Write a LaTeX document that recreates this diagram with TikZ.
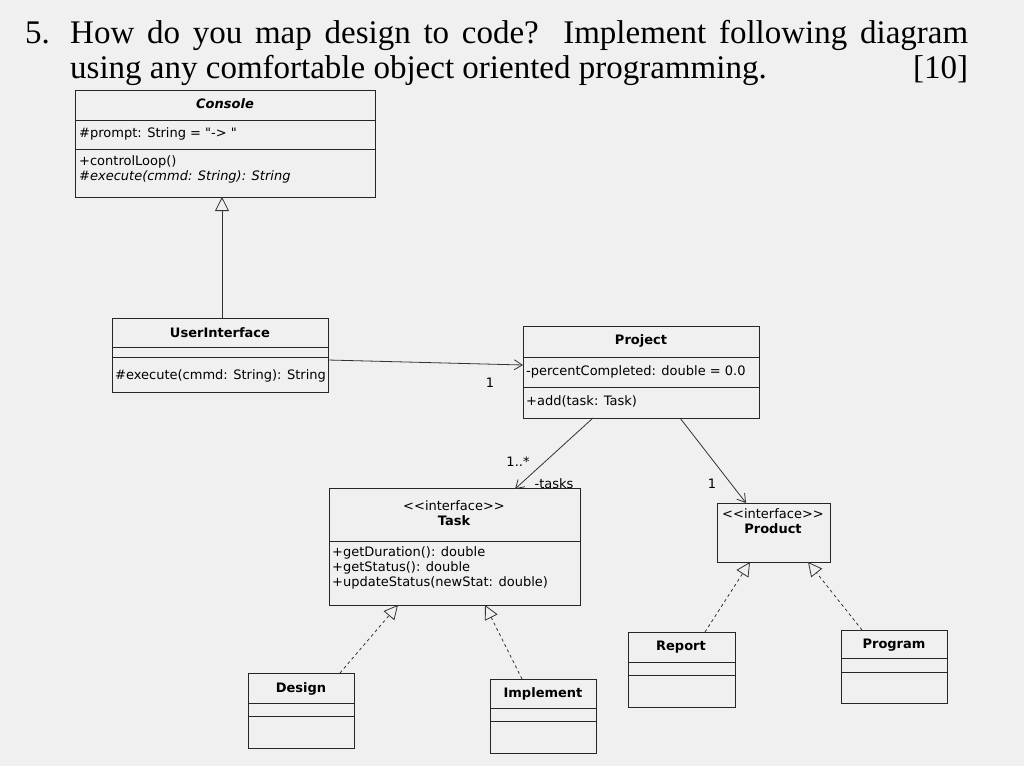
\documentclass[tikz,border=0pt]{standalone}
\usepackage{fontspec}
\setmainfont{Liberation Serif}
\newfontfamily\uml{DejaVu Sans}
\usetikzlibrary{arrows.meta}
\tikzset{
 box/.style={draw=black!85,line width=1pt},
 lbl/.style={font=\uml\fontsize{13}{15}\selectfont,inner sep=1pt},
 bl/.style={lbl,font=\uml\bfseries\fontsize{13}{15}\selectfont},
 hd/.style={anchor=base west,inner sep=0pt,font=\fontsize{33}{36}\selectfont},
 gen/.style={draw=black!80,line width=0.8pt,-{Triangle[open,length=14pt,width=14pt]}},
 real/.style={gen,dashed},
 assoc/.style={draw=black!80,line width=0.8pt,-{Straight Barb[length=8pt,width=10pt]}},
}
\begin{document}
\begin{tikzpicture}[x=1pt,y=-1pt]
\useasboundingbox[fill=black!6] (0,0) rectangle (1024,766);
\node[hd] (hdr1) at (70,43) {\makebox[898pt][s]{How do you map design to code? Implement following diagram}};
\node[hd] (hdr2) at (70,78) {\makebox[898pt][l]{using any comfortable object oriented programming.\hfill[10]}};
\node[hd] (num) at (25,43) {5.};
% Console
\draw[box] (75,90) rectangle (375,197); \draw[box] (75,120)--(375,120); \draw[box](75,149)--(375,149);
\node[bl,font=\uml\bfseries\itshape\fontsize{13}{15}\selectfont] (con) at (225,104) {Console};
\node[lbl,anchor=west] (cp) at (78,134) {\#prompt: String = "-> "};
\node[lbl,anchor=north west,align=left] (cm) at (78,154) {+controlLoop()\\\itshape \#execute(cmmd: String): String};
\coordinate (conB) at (222,197);
% UserInterface
\draw[box] (112,318) rectangle (328,392); \draw[box](112,347)--(328,347); \draw[box](112,357)--(328,357);
\node[bl] (ui) at (220,333) {UserInterface};
\node[lbl,anchor=west] (uim) at (114,376) {\#execute(cmmd: String): String};
% Project
\draw[box] (523,326) rectangle (759,418); \draw[box](523,357)--(759,357); \draw[box](523,387)--(759,387);
\node[bl] (pr) at (641,341) {Project};
\node[lbl,anchor=west] (pra) at (525,372) {-percentCompleted: double = 0.0};
\node[lbl,anchor=west] (prm) at (525,401) {+add(task: Task)};
% Task
\draw[box] (329,488) rectangle (580,605); \draw[box](329,541)--(580,541);
\node[lbl,align=center] (tk) at (454,513) {<<interface>>\\\bfseries Task};
\node[lbl,anchor=north west,align=left] (tkm) at (331,545) {+getDuration(): double\\+getStatus(): double\\+updateStatus(newStat: double)};
% Product
\draw[box] (717,503) rectangle (830,562);
\node[lbl,align=center] (pd) at (773,521) {<<interface>>\\\bfseries Product};
% Report
\draw[box] (628,632) rectangle (735,707); \draw[box](628,662)--(735,662); \draw[box](628,675)--(735,675);
\node[bl] (rp) at (681,647) {Report};
% Program
\draw[box] (841,630) rectangle (947,703); \draw[box](841,658)--(947,658); \draw[box](841,672)--(947,672);
\node[bl] (pg) at (894,645) {Program};
% Design
\draw[box] (248,673) rectangle (354,748); \draw[box](248,703)--(354,703); \draw[box](248,716)--(354,716);
\node[bl] (ds) at (301,689) {Design};
% Implement
\draw[box] (490,679) rectangle (596,753); \draw[box](490,708)--(596,708); \draw[box](490,721)--(596,721);
\node[bl] (im) at (543,694) {Implement};
% connectors
\coordinate (uiT) at (222,318);
\draw[gen] (uiT) -- (conB);
\coordinate (uiR) at (328,360); \coordinate (prL) at (523,365);
\draw[assoc] (uiR) -- (prL);
\node[lbl] (m1) at (490,383) {1};
\coordinate (prB1) at (593,418); \coordinate (tkT) at (515,489);
\draw[assoc] (prB1) -- (tkT);
\node[lbl] (m2) at (518,462) {1..*};
\node[lbl] (m3) at (554,484) {-tasks};
\coordinate (prB2) at (680,418); \coordinate (pdT) at (746,503);
\draw[assoc] (prB2) -- (pdT);
\node[lbl] (m4) at (712,484) {1};
\coordinate (rpT) at (705,632); \coordinate (pdB1) at (750,562);
\draw[real] (rpT) -- (pdB1);
\coordinate (pgT) at (862,630); \coordinate (pdB2) at (808,562);
\draw[real] (pgT) -- (pdB2);
\coordinate (dsT) at (340,673); \coordinate (tkB1) at (398,605);
\draw[real] (dsT) -- (tkB1);
\coordinate (imT) at (522,679); \coordinate (tkB2) at (485,605);
\draw[real] (imT) -- (tkB2);
\end{tikzpicture}
\end{document}
